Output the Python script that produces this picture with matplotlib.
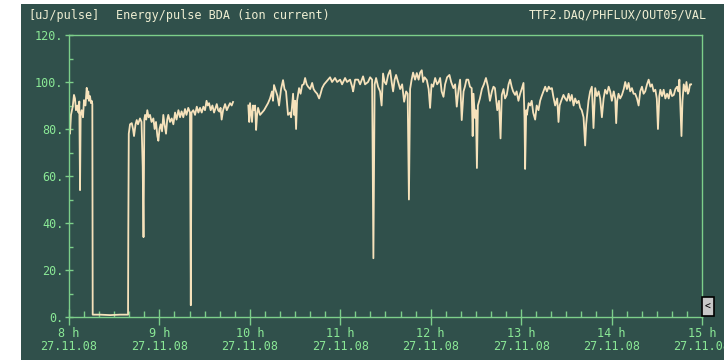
import numpy as np
import matplotlib.pyplot as plt
from matplotlib.patches import Rectangle

# Energy/pulse BDA (ion current), 27.11.08, time in hours
t_a = [8.000, 8.011, 8.022, 8.041, 8.055, 8.066, 8.077, 8.092, 8.105, 8.114,
       8.122, 8.129, 8.140, 8.155, 8.166, 8.182, 8.196, 8.205, 8.213, 8.221,
       8.232, 8.243, 8.251, 8.258, 8.262, 8.343, 8.454, 8.564, 8.653, 8.656,
       8.661, 8.675, 8.694, 8.708, 8.719, 8.736, 8.749, 8.763, 8.785, 8.802,
       8.815, 8.824, 8.833, 8.841, 8.854, 8.866, 8.880, 8.896, 8.913, 8.933,
       8.947, 8.962, 8.977, 8.988, 9.001, 9.014, 9.029, 9.043, 9.056, 9.073,
       9.086, 9.098, 9.117, 9.136, 9.154, 9.173, 9.189, 9.210, 9.228, 9.245,
       9.264, 9.283, 9.299, 9.319, 9.338, 9.347, 9.355, 9.375, 9.394, 9.413,
       9.431, 9.449, 9.468, 9.486, 9.504, 9.521, 9.534, 9.549, 9.567, 9.586,
       9.604, 9.621, 9.634, 9.649, 9.663, 9.676, 9.688, 9.704, 9.726, 9.745,
       9.762, 9.781, 9.799, 9.814]
e_a = [88, 78, 86, 89.5, 94.5, 93, 88, 90, 87, 91.7,
       54, 86, 88, 85, 92.3, 90, 97.5, 93, 96, 92,
       94, 91, 92, 90.6, 1, 1, 0.8, 1, 1, 38,
       78, 82, 82.5, 80, 77, 82, 83.8, 82, 84.5, 83,
       64, 34, 84, 86, 84, 88, 85, 86, 83, 84.5,
       80, 83, 77, 75, 80, 82, 79, 86, 82, 78,
       84, 86, 83, 84.5, 82, 87, 84, 88, 85, 87.5,
       85, 88.5, 86, 89, 87, 5, 87, 88, 86, 89.5,
       87, 89, 87, 89.5, 88, 92, 90, 91, 88, 90,
       87, 89, 90.6, 88, 87.4, 89, 84, 88, 90.6, 88,
       89.5, 91, 90, 91.5]

t_b = [9.983, 9.993, 10.002, 10.013, 10.024, 10.035, 10.046, 10.058, 10.069, 10.080,
       10.091, 10.113, 10.135, 10.157, 10.179, 10.201, 10.223, 10.245, 10.256, 10.267,
       10.290, 10.306, 10.323, 10.345, 10.367, 10.383, 10.400, 10.422, 10.445, 10.456,
       10.467, 10.478, 10.489, 10.500, 10.511, 10.522, 10.544, 10.561, 10.578, 10.595,
       10.611, 10.628, 10.644, 10.667, 10.689, 10.705, 10.721, 10.744, 10.766, 10.782,
       10.799, 10.821, 10.843, 10.865, 10.887, 10.909, 10.942, 10.965, 10.998, 11.020,
       11.053, 11.075, 11.108, 11.131, 11.142, 11.164, 11.197, 11.219, 11.252, 11.274,
       11.307, 11.330, 11.352, 11.366, 11.380, 11.396, 11.418, 11.440, 11.457, 11.473,
       11.490, 11.507, 11.529, 11.551, 11.568, 11.584, 11.601, 11.617, 11.640, 11.662,
       11.684, 11.706, 11.728, 11.745, 11.759, 11.772, 11.789, 11.805, 11.827, 11.846,
       11.866, 11.883, 11.901, 11.916, 11.932, 11.957, 11.977, 11.993, 12.009, 12.027,
       12.049, 12.071, 12.088, 12.104, 12.121, 12.141, 12.159, 12.181, 12.207, 12.226,
       12.251, 12.270, 12.288, 12.308, 12.325, 12.343, 12.363, 12.378, 12.395, 12.415,
       12.434, 12.453, 12.464, 12.473, 12.489, 12.500, 12.511, 12.522, 12.544, 12.566,
       12.588, 12.611, 12.633, 12.655, 12.677, 12.694, 12.710, 12.736, 12.755, 12.772,
       12.786, 12.805, 12.822, 12.841, 12.861, 12.878, 12.895, 12.911, 12.933, 12.950,
       12.970, 12.989, 13.006, 13.026, 13.037, 13.044, 13.056, 13.063, 13.083, 13.100,
       13.117, 13.133, 13.155, 13.172, 13.192, 13.210, 13.227, 13.247, 13.266, 13.285,
       13.305, 13.321, 13.340, 13.355, 13.376, 13.399, 13.413, 13.426, 13.443, 13.468,
       13.487, 13.506, 13.525, 13.542, 13.560, 13.580, 13.597, 13.616, 13.636, 13.653,
       13.670, 13.690, 13.701, 13.708, 13.719, 13.745, 13.763, 13.782, 13.800, 13.819,
       13.838, 13.857, 13.874, 13.893, 13.912, 13.929, 13.949, 13.968, 13.985, 14.003,
       14.024, 14.040, 14.051, 14.062, 14.077, 14.095, 14.115, 14.135, 14.151, 14.170,
       14.188, 14.206, 14.225, 14.243, 14.261, 14.281, 14.299, 14.317, 14.336, 14.354,
       14.372, 14.392, 14.410, 14.429, 14.447, 14.465, 14.484, 14.500, 14.513, 14.528,
       14.539, 14.558, 14.576, 14.595, 14.614, 14.632, 14.650, 14.669, 14.688, 14.706,
       14.725, 14.739, 14.750, 14.761, 14.773, 14.784, 14.798, 14.817, 14.828, 14.843,
       14.854, 14.867, 14.880]
e_b = [90, 83, 91, 87, 83, 90, 88, 90, 79.6, 86,
       89, 86, 87, 88, 89.5, 91, 93, 96, 92, 98.7,
       96, 94, 90, 97, 100.8, 97, 96, 86, 87, 85,
       90, 95, 86, 92, 80, 92, 97.4, 95, 98.7, 99,
       101.7, 99, 98, 97, 99.6, 97, 96, 95, 93, 95,
       97.4, 99, 100, 101, 102, 100, 101.7, 100, 101, 99,
       101.7, 100, 101, 98, 96, 101, 101, 99, 102.4, 99,
       100, 102, 101, 25, 99, 101.7, 98, 96, 90, 103.6,
       100, 99, 103, 105, 100, 96, 101, 103, 100, 97,
       99, 91.6, 96, 95, 50, 97, 101, 104, 101, 103.8,
       101, 104, 105, 100, 102, 100.8, 97, 89, 99, 98,
       101.7, 99, 100, 101.7, 96, 93.7, 99, 102, 103, 100,
       97.4, 99, 89.5, 97, 101, 83.8, 96, 98, 101, 101,
       98, 97.4, 77, 95, 84.7, 88, 63.4, 90, 93, 97,
       99, 101.7, 98, 92, 96, 98, 97.4, 88, 92, 76,
       94.5, 97, 93, 94.5, 99, 101, 98, 96, 94.5, 96,
       92, 95, 97, 99.6, 85, 63, 88, 86, 91, 90,
       92, 87, 84, 90, 88, 92, 94, 96, 98, 96,
       98, 97, 97.4, 94, 90, 93, 83, 90, 92, 94.5,
       93, 92, 95, 92, 94.5, 90, 93, 91, 92, 89,
       88, 85, 78, 73, 82, 92, 96, 98, 80.4, 97.4,
       94, 96, 93, 85, 93, 96.7, 95, 98, 96, 92,
       96, 93, 82.5, 92, 95, 93, 94.5, 97, 100, 97,
       99.6, 96, 97.4, 95, 95, 93, 90, 96, 98, 95,
       96, 99, 101, 98, 99, 96, 96.7, 93, 80, 94,
       96.7, 94, 96.7, 93, 95, 93, 96.7, 94, 94.5, 97,
       98, 96, 101, 90, 77, 92, 99, 96, 100, 95,
       96, 99, 99]

hours = [8, 9, 10, 11, 12, 13, 14, 15]
date_str = "27.11.08"
y_ticks = [0, 20, 40, 60, 80, 100, 120]

bg = '#30504b'
green = '#8ae896'
cream = '#f6e2bb'

fig = plt.figure(figsize=(7.24, 3.6), dpi=100)
fig.patch.set_facecolor('white')
fig.patches.append(Rectangle((21/724, 0), 1, 356/360, transform=fig.transFigure,
                             facecolor=bg, edgecolor='none', zorder=-5))

ax = fig.add_axes([69/724, 43/360, (702-69)/724, (317-35)/360])
ax.set_facecolor(bg)
ax.plot(t_a, e_a, color=cream, lw=1.3)
ax.plot(t_b, e_b, color=cream, lw=1.3)

ax.set_xlim(8, 15)
ax.set_ylim(0, 120)
for s in ax.spines.values():
    s.set_color('#7ccf8a')
    s.set_linewidth(1.0)

ax.set_xticks(hours)
ax.set_xticklabels(["%d h\n%s" % (h, date_str) for h in hours])
ax.set_xticks(np.arange(8, 15, 1/6), minor=True)
ax.set_yticks(y_ticks)
ax.set_yticklabels(["%d." % v for v in y_ticks])
ax.set_yticks(range(10, 120, 20), minor=True)

ax.tick_params(axis='x', which='major', direction='inout', length=12, width=1,
               color='#7ccf8a', labelcolor=green, labelsize=8.5, pad=1)
ax.tick_params(axis='x', which='minor', direction='in', length=4.5, width=1, color='#7ccf8a')
ax.tick_params(axis='y', which='major', direction='inout', length=6, width=1,
               color='#7ccf8a', labelcolor=green, labelsize=8.5, pad=1)
ax.tick_params(axis='y', which='minor', direction='in', length=3, width=1, color='#7ccf8a')
for lab in ax.get_xticklabels() + ax.get_yticklabels():
    lab.set_family('DejaVu Sans Mono')
    lab.set_linespacing(1.05)

fig.text(28/724, 1 - 15/360, "[uJ/pulse]", family='DejaVu Sans Mono', fontsize=8.5,
         color='#eeeed2', va='center', ha='left')
fig.text(116/724, 1 - 15/360, "Energy/pulse BDA (ion current)", family='DejaVu Sans Mono',
         fontsize=8.5, color='#eeeed2', va='center', ha='left')
fig.text(707/724, 1 - 15/360, "TTF2.DAQ/PHFLUX/OUT05/VAL", family='DejaVu Sans Mono',
         fontsize=8.5, color='#eeeed2', va='center', ha='right')

# scroll button at bottom right
fig.patches.append(Rectangle((702/724, 44/360), 12/724, 19/360, transform=fig.transFigure,
                             facecolor='#c8c8c8', edgecolor='black', lw=1.2, zorder=5))
fig.text(708/724, 53.5/360, "<", family='DejaVu Sans Mono', fontsize=7, color='black',
         ha='center', va='center', zorder=6)

fig.savefig("out.png", dpi=100, facecolor=fig.get_facecolor())
